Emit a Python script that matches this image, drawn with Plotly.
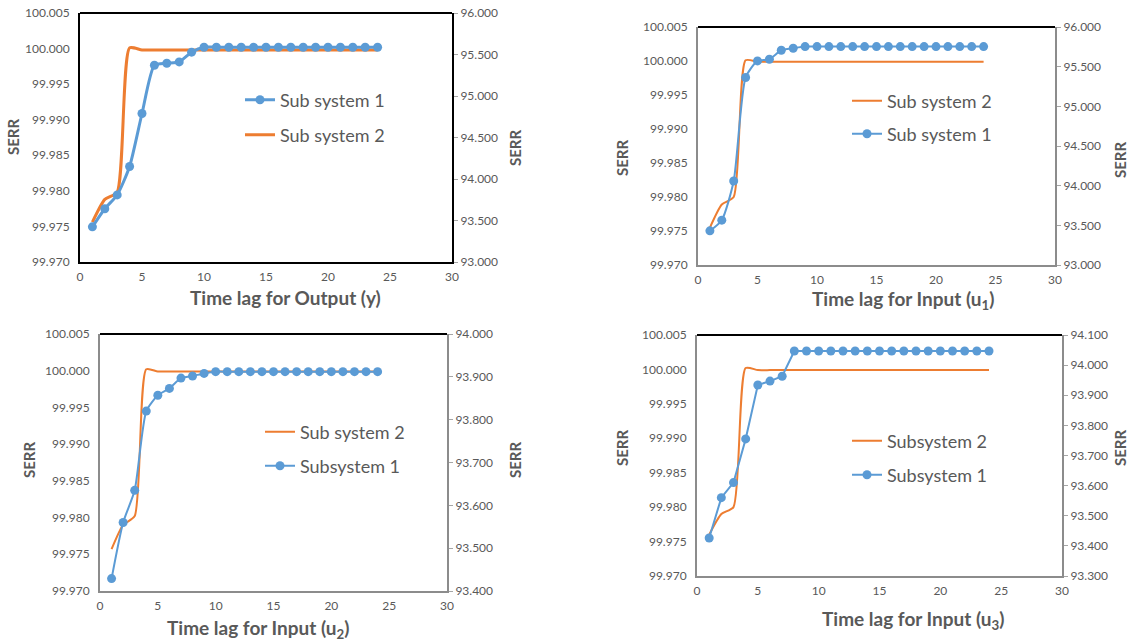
import plotly.graph_objects as go

W, H = 1129, 642
lags = list(range(1, 25))

# Panel 1: Output (y)
p1_sub1 = [93.424, 93.642, 93.808, 94.151, 94.789, 95.370, 95.394, 95.411, 95.528] + [95.588] * 15
p1_sub2 = [99.9756, 99.9788, 99.9798, 100.0001] + [99.9998] * 20
# Panel 2: Input u1
p2_sub1 = [93.431, 93.565, 94.059, 95.364, 95.573, 95.594, 95.707, 95.732] + [95.753] * 16
p2_sub2 = [99.9755, 99.9789, 99.9800, 100.0001] + [99.9999] * 20
# Panel 3: Input u2
p3_sub1 = [93.429, 93.560, 93.635, 93.820, 93.857, 93.873, 93.897, 93.902, 93.908] + [93.912] * 15
p3_sub2 = [99.9757, 99.9790, 99.9802, 100.0002] + [99.9999] * 20
# Panel 4: Input u3
p4_sub1 = [93.426, 93.560, 93.610, 93.755, 93.934, 93.947, 93.963] + [94.047] * 17
p4_sub2 = [99.9760, 99.9790, 99.9800, 100.0002] + [99.9999] * 20

left_range = [99.970, 100.005]
right_ranges = [[93.0, 96.0], [93.0, 96.0], [93.4, 94.0], [93.3, 94.1]]
right_dticks = [0.5, 0.5, 0.1, 0.1]
x_titles = ["Time lag for Output (y)", "Time lag for Input (u<sub>1</sub>)",
            "Time lag for Input (u<sub>2</sub>)", "Time lag for Input (u<sub>3</sub>)"]
names1 = ["Sub system 1", "Sub system 1", "Subsystem 1", "Subsystem 1"]
names2 = ["Sub system 2", "Sub system 2", "Sub system 2", "Subsystem 2"]

BLUE = "#5B9BD5"
ORANGE = "#ED7D31"
GRAY = "#595959"
FONT = "Lato"

def px_x(p):
    return p / W

def px_y(p):
    return 1 - p / H

# plot boxes in pixels: (left, right, top, bottom)
boxes = [(80, 452, 13, 262), (698, 1055, 27, 265), (100, 447, 334, 591), (697, 1062, 335, 576)]
# legend anchors (left of symbol, y of first item, y of second item)
legend_pos = [(240, 100, 135), (847, 101, 134), (260, 432, 466), (847, 441, 475)]
# axis title positions: left SERR (x,y), right SERR (x,y), x-title (x,y)
title_pos = [((13, 137), (515, 148), (285, 297)),
             ((622, 158), (1120, 160), (903, 300)),
             ((29, 460), (515, 460), (258, 629)),
             ((622, 448), (1120, 448), (913, 620))]

sub1 = [p1_sub1, p2_sub1, p3_sub1, p4_sub1]
sub2 = [p1_sub2, p2_sub2, p3_sub2, p4_sub2]

fig = go.Figure()
layout = dict(template="none", width=W, height=H, margin=dict(l=0, r=0, t=0, b=0, autoexpand=False),
              paper_bgcolor="white", plot_bgcolor="white", showlegend=True,
              font=dict(family=FONT, color=GRAY), annotations=[], shapes=[])

for i in range(4):
    xa = "x" if i == 0 else f"x{i+1}"
    yl = f"y{2*i+1}" if i > 0 else "y"
    yr = f"y{2*i+2}"
    lw = 3 if i == 0 else 2
    lg1 = "legend" if i == 0 else f"legend{2*i+1}"
    lg2 = f"legend{2*i+2}"
    blue_shape = "linear" if i == 3 else "spline"
    tr_blue = go.Scatter(x=lags, y=sub1[i], name=names1[i], mode="lines+markers",
                         line=dict(color=BLUE, width=lw, shape=blue_shape, smoothing=0.6),
                         marker=dict(color=BLUE, size=9),
                         xaxis=xa, yaxis=yr, legend=lg1 if i == 0 else lg2, showlegend=True)
    tr_orange = go.Scatter(x=lags, y=sub2[i], name=names2[i], mode="lines",
                           line=dict(color=ORANGE, width=lw, shape="spline", smoothing=0.6),
                           xaxis=xa, yaxis=yl, legend=lg2 if i == 0 else lg1, showlegend=True)
    fig.add_trace(tr_orange)
    fig.add_trace(tr_blue)

    l, r, t, b = boxes[i]
    dom_x = [px_x(l), px_x(r)]
    dom_y = [px_y(b), px_y(t)]
    line_col = "black" if i == 0 else "#8C8C8C"
    xkey = "xaxis" if i == 0 else f"xaxis{i+1}"
    ylkey = "yaxis" if i == 0 else f"yaxis{2*i+1}"
    yrkey = f"yaxis{2*i+2}"
    layout[xkey] = dict(domain=dom_x, anchor=yl, range=[0, 30], dtick=5, tick0=0,
                        showgrid=False, zeroline=False, showline=True, linecolor=line_col,
                        linewidth=2, mirror=False, ticks="outside", ticklen=3,
                        tickcolor="rgba(0,0,0,0)", automargin=False,
                        tickfont=dict(family=FONT, size=12, color=GRAY))
    layout[ylkey] = dict(domain=dom_y, anchor=xa, range=left_range, dtick=0.005, tick0=99.970,
                         tickformat=".3f", showgrid=False, zeroline=False, showline=True,
                         linecolor=line_col, linewidth=2, ticks="outside", ticklen=6,
                         tickcolor="rgba(0,0,0,0)", automargin=False,
                         tickfont=dict(family=FONT, size=12, color=GRAY))
    layout[yrkey] = dict(overlaying=yl, side="right", anchor=xa, range=right_ranges[i],
                         dtick=right_dticks[i], tick0=right_ranges[i][0],
                         tickformat=".3f", showgrid=False, zeroline=False, showline=True,
                         linecolor=line_col, linewidth=2, ticks="outside", ticklen=4,
                         tickcolor="#A6A6A6", automargin=False,
                         tickfont=dict(family=FONT, size=12, color=GRAY))
    # top border in black
    layout["shapes"].append(dict(type="line", xref="paper", yref="paper",
                                 x0=dom_x[0], x1=dom_x[1], y0=dom_y[1], y1=dom_y[1],
                                 line=dict(color="black", width=2)))
    # legends
    lx, ly1, ly2 = legend_pos[i]
    for key, ly in ((lg1, ly1), (lg2, ly2)):
        layout[key] = dict(x=px_x(lx), y=px_y(ly), xanchor="left", yanchor="middle",
                           bgcolor="rgba(0,0,0,0)", borderwidth=0, visible=True,
                           font=dict(family=FONT, size=18, color=GRAY))
    # axis titles
    (lsx, lsy), (rsx, rsy), (xtx, xty) = title_pos[i]
    for (ax, ay) in ((lsx, lsy), (rsx, rsy)):
        layout["annotations"].append(dict(text="<b>SERR</b>", x=px_x(ax), y=px_y(ay),
                                          xref="paper", yref="paper", showarrow=False,
                                          textangle=-90, xanchor="center", yanchor="middle",
                                          font=dict(family=FONT, size=15, color=GRAY)))
    layout["annotations"].append(dict(text=f"<b>{x_titles[i]}</b>", x=px_x(xtx), y=px_y(xty),
                                      xref="paper", yref="paper", showarrow=False,
                                      xanchor="center", yanchor="middle",
                                      font=dict(family=FONT, size=19, color=GRAY)))

fig.update_layout(**layout)
fig.write_html("out.html", config={"displayModeBar": False},
               post_script="document.body.style.margin='0';document.body.style.padding='0';")
